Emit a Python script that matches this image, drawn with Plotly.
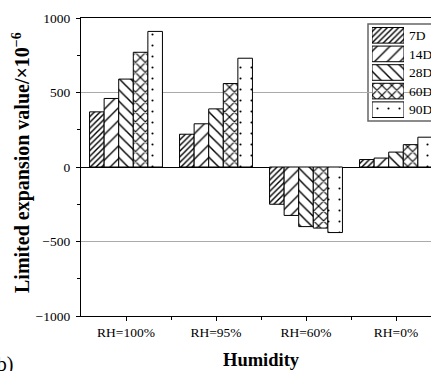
import plotly.graph_objects as go

categories = ["RH=100%", "RH=95%", "RH=60%", "RH=0%"]
ages = ["7D", "14D", "28D", "60D", "90D"]
v7 = [370, 220, -250, 50]
v14 = [460, 290, -325, 60]
v28 = [590, 390, -400, 100]
v60 = [770, 560, -410, 150]
v90 = [910, 730, -440, 200]
series = [v7, v14, v28, v60, v90]
yticks = [-1000, -500, 0, 500, 1000]

patterns = [
    dict(shape="/", size=4, solidity=0.35),
    dict(shape="/", size=9, solidity=0.15),
    dict(shape="\\", size=8, solidity=0.18),
    dict(shape="x", size=7, solidity=0.3),
    dict(shape=".", size=11, solidity=0.03),
]

W, H = 431, 371
L, R, T, B = 81, 0, 18, 55
pw, ph = W - L - R, H - T - B
def px(x):
    return (x - L) / pw
def py(y):
    return (H - B - y) / ph

xs = list(range(len(categories)))
fig = go.Figure()
for name, vals, pat in zip(ages, series, patterns):
    fig.add_trace(go.Bar(
        x=xs, y=vals, name=name, showlegend=False,
        marker=dict(color="white", line=dict(color="black", width=1),
                    pattern=dict(fgcolor="black", bgcolor="white", fillmode="replace", **pat)),
    ))
    # custom legend swatch
    fig.add_trace(go.Bar(
        x=[1], y=[name], orientation="h", xaxis="x2", yaxis="y2",
        showlegend=False, offsetgroup="leg", width=0.84,
        marker=dict(color="white", line=dict(color="black", width=1),
                    pattern=dict(fgcolor="black", bgcolor="white", fillmode="replace", **pat)),
    ))

font = "Liberation Serif, Times New Roman, serif"
fig.update_layout(
    width=W, height=H,
    margin=dict(l=L, r=R, t=T, b=B, autoexpand=False),
    paper_bgcolor="white", plot_bgcolor="white",
    barmode="group", bargap=0.19, bargroupgap=0,
    font=dict(family=font, size=13.5, color="black"),
    xaxis=dict(
        range=[-0.5, -0.5 + pw / 90.0],
        tickvals=xs, ticktext=categories,
        showgrid=False, zeroline=False,
        showline=True, linecolor="black", linewidth=1.2, mirror=True,
        ticks="outside", ticklen=4, tickcolor="black",
        minor=dict(tickvals=[0.5, 1.5, 2.5, 3.5], ticks="outside", ticklen=3, tickcolor="black"),
        tickfont=dict(size=13.5),
    ),
    yaxis=dict(
        range=[-1000, 1000], tickvals=yticks,
        showgrid=True, gridcolor="#aaaaaa", gridwidth=1,
        zeroline=True, zerolinecolor="black", zerolinewidth=1.2,
        showline=True, linecolor="black", linewidth=1.2, mirror=False,
        ticks="outside", ticklen=4, tickcolor="black", ticklabelstandoff=3,
        minor=dict(tickvals=[-750, -250, 250, 750], ticks="outside", ticklen=3, tickcolor="black", showgrid=False),
        tickfont=dict(size=13.5),
    ),
    xaxis2=dict(domain=[px(372), px(404)], range=[0, 1], visible=False, anchor="y2"),
    yaxis2=dict(domain=[py(119), py(26)], type="category", autorange="reversed",
                categoryorder="array", categoryarray=ages,
                anchor="x2", side="right", showgrid=False, zeroline=False, showline=False,
                ticks="", ticklabelstandoff=4, tickfont=dict(size=13.5)),
    shapes=[dict(type="rect", xref="paper", yref="paper",
                 x0=px(368), x1=px(460), y0=py(121), y1=py(24),
                 line=dict(color="#666666", width=1.5), fillcolor="white", layer="between")],
    annotations=[
        dict(text="<b>Humidity</b>", xref="paper", yref="paper", x=px(261), y=py(360),
             xanchor="center", yanchor="middle", showarrow=False, font=dict(size=18.5)),
        dict(text="<b>Limited expansion value/×10<sup>−6</sup></b>", xref="paper", yref="paper",
             x=px(21), y=py(163), xanchor="center", yanchor="middle", textangle=-90,
             showarrow=False, font=dict(size=20)),
        dict(text="(b)", xref="paper", yref="paper", x=px(15), y=py(351),
             xanchor="right", yanchor="top", showarrow=False, font=dict(size=20)),
    ],
)

fig.write_html("out.html")
